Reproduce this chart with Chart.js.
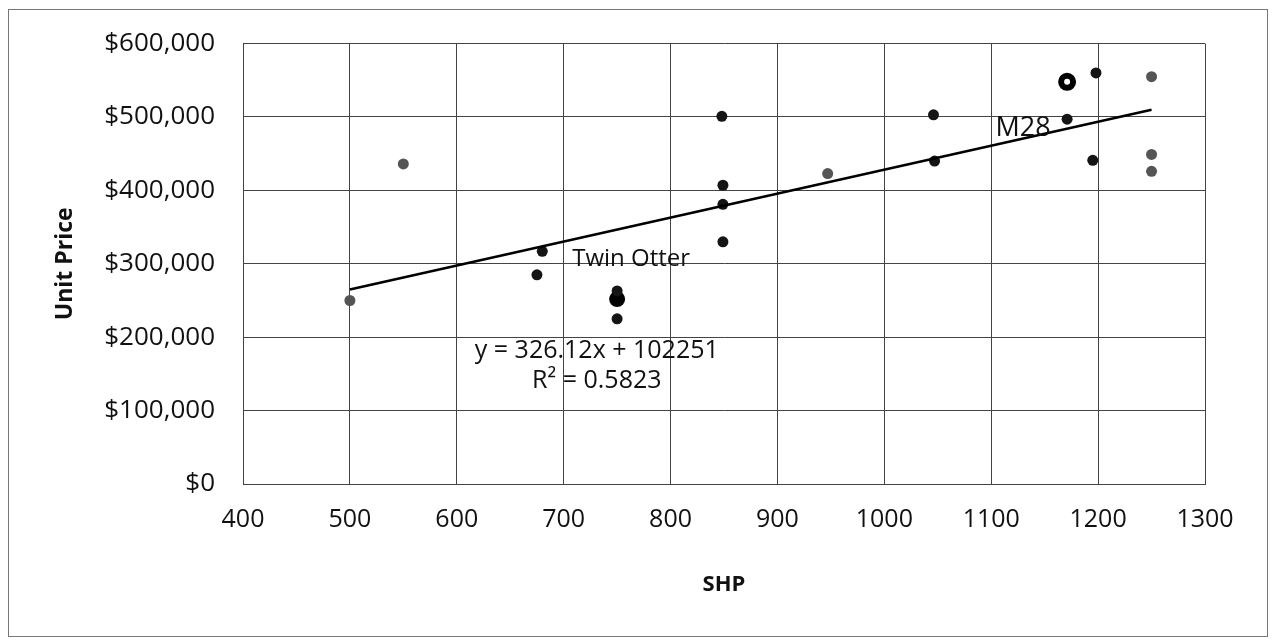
<!DOCTYPE html>
<html>
<head>
<meta charset="utf-8">
<script src="https://cdn.jsdelivr.net/npm/chart.js@4"></script>
<style>
  html, body { margin: 0; padding: 0; background: #fff; }
  #wrap { width: 1275px; height: 644px; position: relative; }
</style>
</head>
<body>
<div id="wrap"><canvas id="chart"></canvas></div>
<script>
// Data
// dark dots
let darkShp   = [675, 680, 750, 750, 848, 849, 849, 849, 1046, 1047, 1171, 1195, 1198];
let darkPrice = [285000, 317000, 225000, 263000, 501000, 407000, 381000, 330000, 503000, 440000, 497000, 441000, 560000];
// lighter grey dots
let greyShp   = [500, 550, 947, 1250, 1250, 1250];
let greyPrice = [250000, 436000, 423000, 555000, 449000, 426000];
// highlighted aircraft
let twinOtterShp = [750];
let twinOtterPrice = [252000];
let m28Shp = [1171];
let m28Price = [548000];
// trend line end points
let trendShp = [500, 1250];
let trendPrice = [265000, 510000];

// axis ticks
let xTicks = [400, 500, 600, 700, 800, 900, 1000, 1100, 1200, 1300];
let yTicks = [0, 100000, 200000, 300000, 400000, 500000, 600000];

const toPts = (xs, ys) => xs.map((x, i) => ({ x: x, y: ys[i] }));

const FONT = "'Open Sans', 'Noto Sans', sans-serif";
const GRID = '#444';

// text labels placed on the plot (data coords)
let notes = [
  { text: 'Twin Otter', x: 708, y: 307000, align: 'left', size: 24 },
  { text: 'M28', x: 1104, y: 484000, align: 'left', size: 27 },
  { text: 'y = 326.12x + 102251', x: 731, y: 182000, align: 'center', size: 25 },
  { text: 'R\u00B2 = 0.5823', x: 731, y: 140000, align: 'center', size: 25 }
];

// outer frame + notes
const decor = {
  id: 'decor',
  beforeDraw(chart) {
    const ctx = chart.ctx;
    ctx.save();
    ctx.fillStyle = '#fff';
    ctx.fillRect(0, 0, chart.width, chart.height);
    ctx.strokeStyle = '#777';
    ctx.lineWidth = 1;
    ctx.strokeRect(8.5, 9.5, 1259, 627);
    ctx.restore();
  },
  afterDatasetsDraw(chart) {
    const ctx = chart.ctx;
    const xs = chart.scales.x, ys = chart.scales.y;
    ctx.save();
    ctx.fillStyle = '#111';
    ctx.textBaseline = 'middle';
    notes.forEach(n => {
      ctx.font = n.size + 'px ' + FONT;
      ctx.textAlign = n.align;
      ctx.fillText(n.text, xs.getPixelForValue(n.x), ys.getPixelForValue(n.y));
    });
    ctx.restore();
  }
};

var ctx = document.getElementById('chart').getContext('2d');
new Chart(ctx, {
  type: 'scatter',
  data: {
    datasets: [{
      label: 'Trend',
      data: toPts(trendShp, trendPrice),
      showLine: true,
      borderColor: '#000',
      borderWidth: 2.5,
      pointRadius: 0,
      order: 0
    }, {
      label: 'Dark',
      data: toPts(darkShp, darkPrice),
      backgroundColor: '#151515',
      borderWidth: 0,
      pointRadius: 5.5,
      order: 1
    }, {
      label: 'Grey',
      data: toPts(greyShp, greyPrice),
      backgroundColor: '#555',
      borderWidth: 0,
      pointRadius: 5.5,
      order: 1
    }, {
      label: 'Twin Otter',
      data: toPts(twinOtterShp, twinOtterPrice),
      backgroundColor: '#000',
      borderWidth: 0,
      pointRadius: 8,
      order: 1
    }, {
      label: 'M28',
      data: toPts(m28Shp, m28Price),
      backgroundColor: '#fff',
      borderColor: '#000',
      borderWidth: 6,
      pointRadius: 6,
      order: 1
    }]
  },
  options: {
    responsive: true,
    maintainAspectRatio: false,
    animation: false,
    layout: { padding: { left: 0, top: 42, right: 70, bottom: 0 } },
    plugins: {
      legend: { display: false },
      tooltip: { enabled: false }
    },
    scales: {
      x: {
        type: 'linear',
        min: xTicks[0],
        max: xTicks[xTicks.length - 1],
        afterFit: s => { s.height = 160; },
        afterBuildTicks: s => { s.ticks = xTicks.map(v => ({ value: v })); },
        ticks: {
          color: '#111',
          padding: 21,
          font: { family: FONT, size: 25 },
          callback: v => String(v)
        },
        grid: { color: GRID, lineWidth: 1, drawTicks: false },
        border: { display: true, color: GRID, width: 1 },
        title: {
          display: true,
          text: 'SHP',
          color: '#111',
          font: { family: FONT, size: 22, weight: 'bold' },
          padding: { top: 0, bottom: 46 }
        }
      },
      y: {
        type: 'linear',
        min: yTicks[0],
        max: yTicks[yTicks.length - 1],
        afterFit: s => { s.width = 243; },
        afterBuildTicks: s => { s.ticks = yTicks.map(v => ({ value: v })); },
        ticks: {
          color: '#111',
          padding: 28,
          font: { family: FONT, size: 26 },
          callback: v => '$' + Number(v).toLocaleString('en-US')
        },
        grid: { color: GRID, lineWidth: 1, drawTicks: false },
        border: { display: true, color: GRID, width: 1 },
        title: {
          display: true,
          text: 'Unit Price',
          color: '#111',
          font: { family: FONT, size: 23, weight: 'bold' },
          padding: { top: 52, bottom: 0 }
        }
      }
    }
  },
  plugins: [decor]
});
</script>
</body>
</html>
